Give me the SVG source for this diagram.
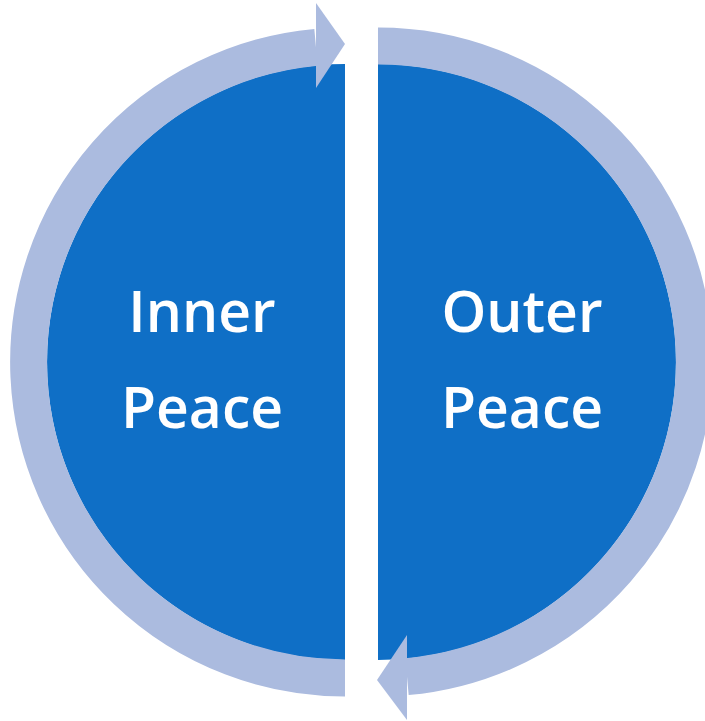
<svg xmlns="http://www.w3.org/2000/svg" width="705" height="721" viewBox="0 0 705 721">
<style>
.half{fill:#0F6FC6}
.ring{fill:none;stroke:#ABBBDF;stroke-width:37}
.head{fill:#ABBBDF}
.lbl{font-family:"Open Sans","Liberation Sans",sans-serif;font-weight:600;font-size:57px;fill:#FFFFFF;text-anchor:middle}
</style>
<rect width="705" height="721" fill="#FFFFFF"/>
<g id="inner">
<path class="half" d="M345,64 A298,298 0 0 0 345,660 Z"/>
<text class="lbl" x="202" y="332">Inner</text>
<text class="lbl" x="202" y="428">Peace</text>
</g>
<g id="outer">
<path class="half" d="M378,64 A298,298 0 0 1 378,660 Z"/>
<text class="lbl" x="522" y="332">Outer</text>
<text class="lbl" x="522" y="428">Peace</text>
</g>
<g id="connectors">
<path class="ring" d="M345,678 A316,316 0 0 1 316,47.3"/>
<polygon class="head" points="316,3 345,44 316,88"/>
<path class="ring" d="M378,46 A316,316 0 0 1 407,676.7"/>
<polygon class="head" points="407,635 377,680 407,720"/>
</g>
</svg>
